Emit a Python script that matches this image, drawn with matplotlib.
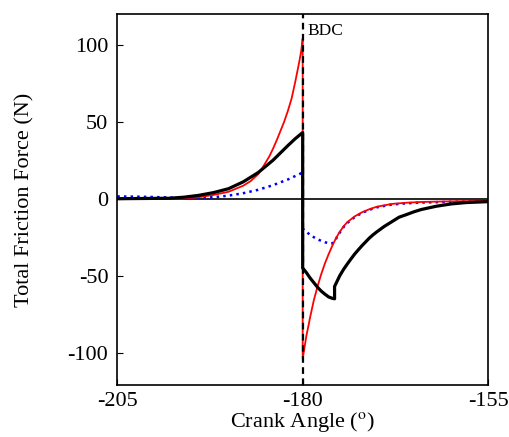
import numpy as np
import matplotlib
matplotlib.use("Agg")
from matplotlib import pyplot as plt

plt.rcParams['font.family'] = ['Liberation Serif', 'DejaVu Serif']
plt.rcParams['mathtext.fontset'] = 'stix'
plt.rcParams['axes.unicode_minus'] = False

# crank angle (deg) / friction force (N)
red_x = [-205, -198, -196, -194, -192, -190, -188, -187, -186, -185.5, -185,
         -184.5, -184, -183.5, -183, -182.5, -182, -181.5, -181, -180.5, -180.2,
         -180, -180, -179.7, -179.5, -179.2, -179, -178.5, -178, -177.5, -177,
         -176.5, -176, -175.5, -175, -174.5, -174, -173, -172, -171, -170, -168,
         -166, -164, -160, -155]
red_y = [0, 0.1, 0.3, 1.0, 2.5, 4.5, 8.5, 11.5, 16, 19.5, 23.5,
         27.5, 32.5, 38, 44, 50, 57, 65, 76, 88, 96,
         104, -104, -95, -89, -82, -77, -66, -57, -49, -42,
         -36, -30.5, -25.5, -21.5, -18, -15.3, -11.5, -8.8, -6.8, -5.2, -3.4,
         -2.6, -2.1, -1.7, -1.4]

blue_x = [-205, -202, -200, -198, -196, -194, -192, -190, -188, -186, -184, -182,
          -180, -180, -179.5, -179, -178.5, -178, -177.5, -177, -176.5, -176,
          -175.5, -175, -174.5, -174, -173, -172, -171, -170, -168, -166, -164,
          -160, -155]
blue_y = [1.5, 1.3, 1.1, 0.8, 0.6, 0.6, 1.0, 2.0, 3.6, 5.8, 8.8, 12.5,
          17, -19.5, -21.5, -23.5, -25, -26.3, -27.4, -28.3, -28.8, -29,
          -26, -22, -18.5, -15.8, -12, -9.2, -7.2, -5.6, -3.8, -3.0, -2.5,
          -2.0, -1.6]

black_x = [-205, -198, -196, -194, -192, -190, -188, -186, -184, -182, -181, -180,
           -180, -179.5, -179, -178.5, -178, -177.5, -177, -176.5, -176, -175.7,
           -175.7, -175.3, -175, -174.5, -174, -173.5, -173, -172.5, -172, -171.5,
           -171, -170.5, -170, -169, -168, -167, -166, -165, -164, -162, -160,
           -158, -155]
black_y = [0, 0.3, 1.0, 2.2, 4.0, 6.5, 11, 17, 25, 34.5, 39, 43,
           -45, -48, -51.5, -54.5, -57.5, -60, -62, -63.8, -64.7, -65,
           -57, -53, -50, -46, -42.5, -39.2, -36, -33.2, -30.5, -28,
           -25.5, -23.4, -21.5, -18, -15, -12, -10.3, -8.5, -7, -4.9, -3.4,
           -2.5, -1.9]

fig = plt.figure(figsize=(5.1, 4.37), dpi=100)
ax = fig.add_axes([0.23, 0.119, 0.727, 0.849])

ax.axhline(0, color='black', lw=1.2, zorder=1)
ax.plot(red_x, red_y, color='red', lw=1.3, zorder=3)
ax.plot(blue_x, blue_y, color='blue', lw=1.8, ls=':', zorder=2)
ax.plot(black_x, black_y, color='black', lw=2.3, zorder=4)
ax.axvline(-180, color='black', lw=1.6, ls=(0, (3, 2)), zorder=5)
ax.text(-179.3, 109, 'BDC', fontsize=12.5, va='center', ha='left')

ax.set_xlim(-205, -155)
ax.set_ylim(-121, 120)
ax.set_xticks([-205, -180, -155])
ax.set_yticks([-100, -50, 0, 50, 100])
ax.tick_params(direction='in', labelsize=16, length=4)
ax.tick_params(axis='y', pad=6.5)
ax.tick_params(axis='x', pad=5)
ax.set_xlabel(r'Crank Angle ($^{\rm o}$)', fontsize=16, labelpad=-1)
ax.set_ylabel('Total Friction Force (N)', fontsize=16, labelpad=24)
for s in ax.spines.values():
    s.set_linewidth(1.2)

fig.savefig('out.png', dpi=100)
